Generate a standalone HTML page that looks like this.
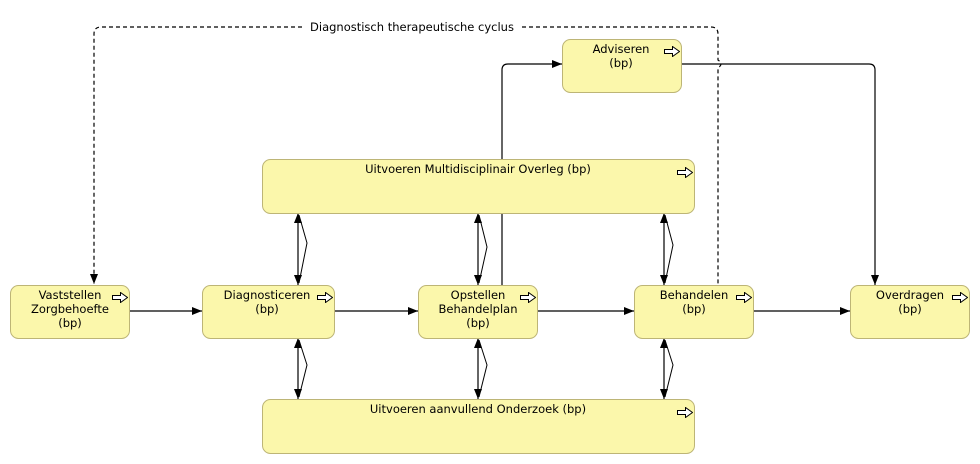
<!DOCTYPE html>
<html><head><meta charset="utf-8"><style>
html,body{margin:0;padding:0;background:#fff;width:980px;height:464px;overflow:hidden}
text{font-family:"DejaVu Sans","Liberation Sans",sans-serif;font-size:11.5px;fill:#000}
</style></head><body>
<svg width="980" height="464" viewBox="0 0 980 464" xmlns="http://www.w3.org/2000/svg">
<defs>
<marker id="a" markerWidth="10" markerHeight="8" refX="10" refY="4" orient="auto" markerUnits="userSpaceOnUse"><path d="M0,0 L10,4 L0,8 z" fill="#000"/></marker>
<marker id="as" markerWidth="10" markerHeight="8" refX="0" refY="4" orient="auto" markerUnits="userSpaceOnUse"><path d="M10,0 L0,4 L10,8 z" fill="#000"/></marker>
<symbol id="ic" viewBox="0 0 16 11"><path d="M0.5,3.5 H8.5 V0.5 L15.5,5.5 L8.5,10.5 V7.5 H0.5 Z" fill="#fff" stroke="#000" stroke-width="1"/></symbol>
</defs>
<g fill="none" stroke="#000" stroke-width="1.2">
<path d="M302,27 H101 Q94,27 94,34 V284" stroke-dasharray="4,3" marker-end="url(#a)"/>
<path d="M522,27 H711 Q718,27 718,34 V60 Q724,64 718,68 V285" stroke-dasharray="4,3"/>
<path d="M129,311 H202" marker-end="url(#a)"/>
<path d="M334,311 H418" marker-end="url(#a)"/>
<path d="M537,311 H634" marker-end="url(#a)"/>
<path d="M753,311 H850" marker-end="url(#a)"/>
<path d="M502,285 V70 Q502,64 508,64 H562" marker-end="url(#a)"/>
<path d="M681,64 H869 Q875,64 875,70 V285" marker-end="url(#a)"/>
<g>
<path d="M298,213 V285" marker-start="url(#as)" marker-end="url(#a)"/>
<path d="M299,215 L307,243 L299,283" stroke-width="1"/>
<path d="M478,213 V285" marker-start="url(#as)" marker-end="url(#a)"/>
<path d="M479,215 L487,247 L479,283" stroke-width="1"/>
<path d="M664,213 V285" marker-start="url(#as)" marker-end="url(#a)"/>
<path d="M665,215 L673,245 L665,283" stroke-width="1"/>
<path d="M298,338 V399" marker-start="url(#as)" marker-end="url(#a)"/>
<path d="M299,340 L307,365 L299,397" stroke-width="1"/>
<path d="M478,338 V399" marker-start="url(#as)" marker-end="url(#a)"/>
<path d="M479,340 L487,365 L479,397" stroke-width="1"/>
<path d="M664,338 V399" marker-start="url(#as)" marker-end="url(#a)"/>
<path d="M665,340 L673,365 L665,397" stroke-width="1"/>
</g>
</g>
<text x="412" y="31" text-anchor="middle">Diagnostisch therapeutische cyclus</text>
<g fill="#fbf7ab" stroke="#bdb576" stroke-width="1">
<rect x="10.5" y="285.5" width="119" height="53" rx="8"/>
<rect x="202.5" y="285.5" width="132" height="53" rx="8"/>
<rect x="418.5" y="285.5" width="119" height="53" rx="8"/>
<rect x="634.5" y="285.5" width="119" height="53" rx="8"/>
<rect x="850.5" y="285.5" width="119" height="53" rx="8"/>
<rect x="562.5" y="39.5" width="119" height="53" rx="8"/>
<rect x="262.5" y="159.5" width="432" height="54" rx="8"/>
<rect x="262.5" y="399.5" width="432" height="54" rx="8"/>
</g>
<use href="#ic" x="112" y="292" width="16" height="11"/>
<use href="#ic" x="317" y="292" width="16" height="11"/>
<use href="#ic" x="520" y="292" width="16" height="11"/>
<use href="#ic" x="736" y="292" width="16" height="11"/>
<use href="#ic" x="952" y="292" width="16" height="11"/>
<use href="#ic" x="664" y="46" width="16" height="11"/>
<use href="#ic" x="677" y="167" width="16" height="11"/>
<use href="#ic" x="677" y="407" width="16" height="11"/>
<g text-anchor="middle">
<text x="70" y="299">Vaststellen</text><text x="70" y="313">Zorgbehoefte</text><text x="70" y="327">(bp)</text>
<text x="267" y="299">Diagnosticeren</text><text x="267" y="313">(bp)</text>
<text x="478" y="299">Opstellen</text><text x="478" y="313">Behandelplan</text><text x="478" y="327">(bp)</text>
<text x="694" y="299">Behandelen</text><text x="694" y="313">(bp)</text>
<text x="910" y="299">Overdragen</text><text x="910" y="313">(bp)</text>
<text x="621" y="53">Adviseren</text><text x="621" y="67">(bp)</text>
<text x="478" y="173">Uitvoeren Multidisciplinair Overleg (bp)</text>
<text x="478" y="413">Uitvoeren aanvullend Onderzoek (bp)</text>
</g>
</svg>
</body></html>
